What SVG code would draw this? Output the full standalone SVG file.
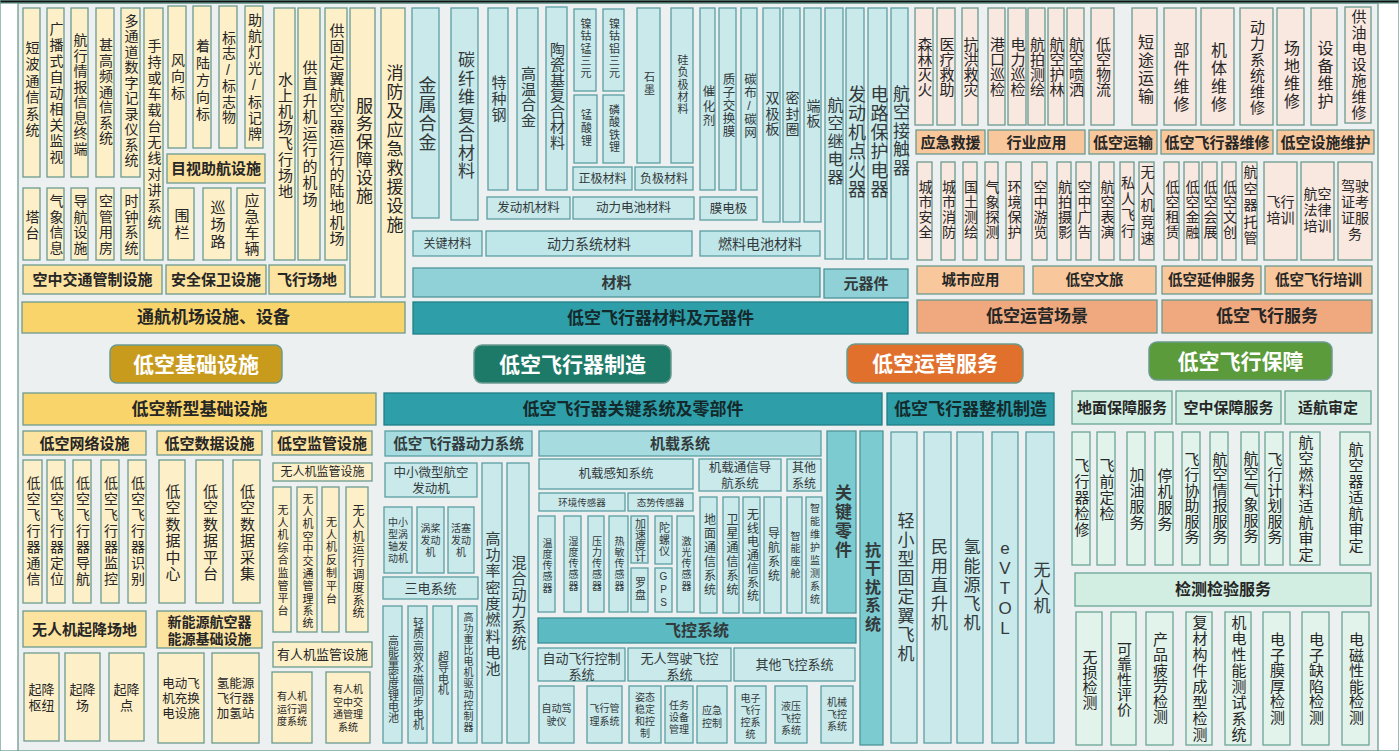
<svg xmlns="http://www.w3.org/2000/svg" width="1399" height="751" viewBox="0 0 1399 751">
<style>
rect{stroke:#6b9a8f;stroke-width:1.3}
.y1{fill:#fdf0c9}.y2{fill:#fce3a0}.y3{fill:#f9d46a}
.t1{fill:#c9e9eb;stroke:#5a9ea3}.t2{fill:#a6dce0;stroke:#5a9ea3}.t3{fill:#8fd1d7;stroke:#4f9499}.t4{fill:#2e9ea8;stroke:#1f7f86}.t5{fill:#5cbac3;stroke:#3f9096}.t6{fill:#7ccbd1;stroke:#4f9499}.t7{fill:#bfe6e9;stroke:#5a9ea3}
.o1{fill:#f9e8df}.o2{fill:#f8c89c}.o3{fill:#f0a97e}
.g1{fill:#e2f3eb;stroke:#6aa596}.g2{fill:#d2eee2;stroke:#6aa596}
.btn{stroke-width:1.5}
text{font-family:"Liberation Sans","Noto Sans CJK SC",sans-serif;fill:#262626}
.tt text{fill:#333a3b}
.v{writing-mode:vertical-rl;text-orientation:upright;text-anchor:middle}
.h{text-anchor:middle;dominant-baseline:central}
.b{font-weight:700}
.w{fill:#fff;font-weight:700}
.f9{font-size:9.5px}.f10{font-size:10px}.f11{font-size:11px}.f12{font-size:12px}.f125{font-size:12.5px}.f13{font-size:13px}.f14{font-size:14px}.f145{font-size:14.5px}.f15{font-size:15px}.f16{font-size:16px}.f17{font-size:17px}.f18{font-size:18px}.f21{font-size:21px}
.s05{letter-spacing:0.5px}.s1{letter-spacing:1px}.s13{letter-spacing:1.3px}.s15{letter-spacing:1.5px}.s2{letter-spacing:2px}.s25{letter-spacing:2.5px}.s3{letter-spacing:3px}
</style>
<rect x="0" y="0" width="1399" height="751" fill="#ffffff" stroke="none"/>
<rect x="18" y="3" width="1360" height="748" fill="#edf0f1" stroke="none"/>
<rect x="0" y="0" width="1399" height="3" fill="#111" stroke="none"/>

<!-- ===== Low-altitude infrastructure (top) ===== -->
<g id="n-dbtx"><rect class="y1" x="23" y="8" width="17" height="169"/><text class="v f14 s25" x="31.5" y="90">短波通信系统</text></g>
<g id="n-gbs"><rect class="y1" x="47" y="8" width="17" height="169"/><text class="v f14 s2" x="55.5" y="94">广播式自动相关监视</text></g>
<g id="n-hxqb"><rect class="y1" x="71" y="8" width="17" height="169"/><text class="v f14 s15" x="79.5" y="95">航行情报信息终端</text></g>
<g id="n-sgp"><rect class="y1" x="96" y="8" width="18" height="169"/><text class="v f14 s15" x="105" y="92">甚高频通信系统</text></g>
<g id="n-dtd"><rect class="y1" x="121" y="8" width="19" height="169"/><text class="v f14 s15" x="130.5" y="91">多通道数字记录仪系统</text></g>
<g id="n-scht"><rect class="y1" x="144" y="8" width="19" height="252"/><text class="v f14 s2" x="153.5" y="135">手持或车载台无线对讲系统</text></g>
<g id="n-tt"><rect class="y1" x="23" y="188" width="17" height="72"/><text class="v f14 s2" x="31.5" y="226">塔台</text></g>
<g id="n-qx"><rect class="y1" x="47" y="188" width="17" height="72"/><text class="v f14 s15" x="55.5" y="225">气象信息</text></g>
<g id="n-dhss"><rect class="y1" x="71" y="188" width="17" height="72"/><text class="v f14 s15" x="79.5" y="225">导航设施</text></g>
<g id="n-kgyf"><rect class="y1" x="96" y="188" width="18" height="72"/><text class="v f14 s15" x="105" y="225">空管用房</text></g>
<g id="n-szxt"><rect class="y1" x="121" y="188" width="19" height="72"/><text class="v f14 s15" x="130.5" y="225">时钟系统</text></g>
<g id="n-fxb"><rect class="y1" x="168" y="6" width="18" height="142"/><text class="v f14 s25" x="177" y="77">风向标</text></g>
<g id="n-zlfx"><rect class="y1" x="193" y="6" width="18" height="142"/><text class="v f14 s3" x="202" y="81">着陆方向标</text></g>
<g id="n-bzw"><rect class="y1" x="219" y="6" width="18" height="142"/><text class="v f14 s15" x="228" y="78">标志/标志物</text></g>
<g id="n-zhdg"><rect class="y1" x="245" y="6" width="18" height="142"/><text class="v f14 s2" x="254" y="78">助航灯光/标记牌</text></g>
<g id="n-mszh"><rect class="y2" x="167" y="154" width="98" height="29"/><text class="h b f15" x="216" y="168.5">目视助航设施</text></g>
<g id="n-wl"><rect class="y1" x="168" y="188" width="26" height="72"/><text class="v f15 s2" x="181" y="225">围栏</text></g>
<g id="n-xcl"><rect class="y1" x="203" y="188" width="28" height="72"/><text class="v f15 s2" x="217" y="225">巡场路</text></g>
<g id="n-yjcl"><rect class="y1" x="237" y="188" width="28" height="72"/><text class="v f15 s1" x="251" y="225">应急车辆</text></g>
<g id="n-ssjc"><rect class="y1" x="274" y="8" width="21" height="252"/><text class="v f15 s1" x="284.5" y="136">水上机场飞行场地</text></g>
<g id="n-gzsj"><rect class="y1" x="298" y="8" width="22" height="252"/><text class="v f15 s15" x="309" y="134">供直升机运行的机场</text></g>
<g id="n-ggdy"><rect class="y1" x="325" y="8" width="22" height="252"/><text class="v f15 s1" x="336" y="135">供固定翼航空器运行的陆地机场</text></g>
<g id="n-fwbz"><rect class="y1" x="350" y="8" width="25" height="289"/><text class="v f17 s1" x="362.5" y="151">服务保障设施</text></g>
<g id="n-xfjy"><rect class="y1" x="381" y="8" width="24" height="289"/><text class="v f17 s2" x="393" y="150">消防及应急救援设施</text></g>
<g id="n-kzjt"><rect class="y2" x="23" y="265" width="139" height="29"/><text class="h b f15" x="92.5" y="279.5">空中交通管制设施</text></g>
<g id="n-aqbw"><rect class="y2" x="166" y="265" width="100" height="29"/><text class="h b f15" x="216" y="279.5">安全保卫设施</text></g>
<g id="n-fxcd"><rect class="y2" x="269" y="265" width="76" height="29"/><text class="h b f15" x="307" y="279.5">飞行场地</text></g>
<g id="n-thjc"><rect class="y3" x="22" y="302" width="383" height="31"/><text class="h b f17" x="213.5" y="317.5">通航机场设施、设备</text></g>
<g id="n-dkjc"><rect class="btn" x="110" y="345" width="172" height="38" rx="7" fill="#c89b1c" stroke="#86661a"/><text class="h w f21" x="196" y="364">低空基础设施</text></g>

<!-- ===== Materials & components (top) ===== -->
<g class="tt">
<g id="n-jshj"><rect class="t1" x="412" y="8" width="27" height="210"/><text class="v f18 s1" x="425.5" y="114">金属合金</text></g>
<g id="n-txw"><rect class="t1" x="451" y="8" width="27" height="212"/><text class="v f17 s15" x="464.5" y="116">碳纤维复合材料</text></g>
<g id="n-tzg"><rect class="t1" x="488" y="8" width="20" height="182"/><text class="v f15 s1" x="498" y="99">特种钢</text></g>
<g id="n-gwhj"><rect class="t1" x="517" y="8" width="21" height="182"/><text class="v f15 s05" x="527.5" y="97">高温合金</text></g>
<g id="n-tcj"><rect class="t1" x="546" y="7" width="21" height="183"/><text class="v f15 s05" x="556.5" y="96">陶瓷基复合材料</text></g>
<g id="n-ngm"><rect class="t1" x="574" y="9" width="22" height="82"/><text class="v f11 s13" x="585" y="49">镍钴锰三元</text></g>
<g id="n-ngl"><rect class="t1" x="603" y="9" width="21" height="82"/><text class="v f11 s13" x="613.5" y="49">镍钴铝三元</text></g>
<g id="n-msl"><rect class="t1" x="574" y="95" width="23" height="68"/><text class="v f11 s2" x="585.5" y="129">锰酸锂</text></g>
<g id="n-lstl"><rect class="t1" x="603" y="95" width="21" height="68"/><text class="v f11 s13" x="613.5" y="129">磷酸铁锂</text></g>
<g id="n-sm"><rect class="t1" x="637" y="8" width="23" height="155"/><text class="v f11 s15" x="648.5" y="84">石墨</text></g>
<g id="n-gfj"><rect class="t1" x="671" y="8" width="22" height="155"/><text class="v f11 s13" x="682" y="85">硅负极材料</text></g>
<g id="n-zjcl"><rect class="t1" x="573" y="167" width="59" height="23"/><text class="h f12" x="602.5" y="178.5">正极材料</text></g>
<g id="n-fjcl"><rect class="t1" x="635" y="167" width="58" height="23"/><text class="h f12" x="664" y="178.5">负极材料</text></g>
<g id="n-fdjcl"><rect class="t1" x="487" y="197" width="83" height="22"/><text class="h f125" x="528.5" y="208">发动机材料</text></g>
<g id="n-dldc"><rect class="t1" x="573" y="197" width="121" height="22"/><text class="h f125" x="633.5" y="208">动力电池材料</text></g>
<g id="n-chj"><rect class="t1" x="700" y="8" width="15" height="182"/><text class="v f125 s2" x="707.5" y="107">催化剂</text></g>
<g id="n-zzjh"><rect class="t1" x="719" y="8" width="17" height="182"/><text class="v f125 s05" x="727.5" y="105">质子交换膜</text></g>
<g id="n-tbtw"><rect class="t1" x="741" y="8" width="16" height="182"/><text class="v f125 s05" x="749" y="106">碳布/碳网</text></g>
<g id="n-mdj"><rect class="t1" x="700" y="197" width="57" height="23"/><text class="h f125" x="728.5" y="208.5">膜电极</text></g>
<g id="n-sjb"><rect class="t1" x="763" y="8" width="17" height="214"/><text class="v f14 s15" x="771.5" y="114">双极板</text></g>
<g id="n-mfq"><rect class="t1" x="783" y="8" width="17" height="214"/><text class="v f14 s15" x="791.5" y="114">密封圈</text></g>
<g id="n-db"><rect class="t1" x="804" y="8" width="17" height="214"/><text class="v f14 s15" x="812.5" y="114">端板</text></g>
<g id="n-gjcl"><rect class="t7" x="413" y="231" width="69" height="25"/><text class="h f12" x="447.5" y="243.5">关键材料</text></g>
<g id="n-dlxt"><rect class="t7" x="486" y="231" width="206" height="25"/><text class="h f14" x="589" y="243.5">动力系统材料</text></g>
<g id="n-rldc"><rect class="t7" x="700" y="231" width="120" height="25"/><text class="h f14" x="760" y="243.5">燃料电池材料</text></g>
<g id="n-hkjd"><rect class="t1" x="825" y="8" width="18" height="251"/><text class="v f16 s2" x="834" y="142">航空继电器</text></g>
<g id="n-fdjdh"><rect class="t1" x="846" y="8" width="18" height="251"/><text class="v f18 s1" x="855" y="142">发动机点火器</text></g>
<g id="n-dlbh"><rect class="t1" x="868" y="8" width="19" height="251"/><text class="v f18 s1" x="877.5" y="142">电路保护电器</text></g>
<g id="n-hkjc"><rect class="t1" x="891" y="8" width="17" height="251"/><text class="v f17 s15" x="899.5" y="131">航空接触器</text></g>
<g id="n-cl"><rect class="t3" x="413" y="268" width="407" height="29"/><text class="h b f15" x="616.5" y="282.5">材料</text></g>
<g id="n-yqj"><rect class="t3" x="824" y="269" width="84" height="29"/><text class="h b f15" x="866" y="283.5">元器件</text></g>
<g id="n-clyqj"><rect class="t4" x="413" y="302" width="495" height="32"/><text class="h b f17" x="660.5" y="318" style="fill:#14292b">低空飞行器材料及元器件</text></g>
</g>
<g id="n-zz"><rect class="btn" x="474" y="345" width="197" height="38" rx="8" fill="#1e7a68" stroke="#0f5145"/><text class="h w f21" x="572.5" y="364">低空飞行器制造</text></g>

<!-- ===== Operations (top right) ===== -->
<g id="n-sl"><rect class="o1" x="915" y="8" width="18" height="117"/><text class="v f15" x="924" y="67">森林灭火</text></g>
<g id="n-yl"><rect class="o1" x="937" y="8" width="18" height="117"/><text class="v f15" x="946" y="67">医疗救助</text></g>
<g id="n-kh"><rect class="o1" x="962" y="8" width="16" height="117"/><text class="v f15" x="970" y="67">抗洪救灾</text></g>
<g id="n-gk"><rect class="o1" x="988" y="8" width="17" height="117"/><text class="v f15" x="996.5" y="67">港口巡检</text></g>
<g id="n-dlxj"><rect class="o1" x="1008" y="8" width="18" height="117"/><text class="v f15" x="1017" y="67">电力巡检</text></g>
<g id="n-hpch"><rect class="o1" x="1028" y="8" width="17" height="117"/><text class="v f15" x="1036.5" y="67">航拍测绘</text></g>
<g id="n-hkhl"><rect class="o1" x="1048" y="8" width="16" height="117"/><text class="v f15" x="1056" y="67">航空护林</text></g>
<g id="n-hkps"><rect class="o1" x="1067" y="8" width="17" height="117"/><text class="v f15" x="1075.5" y="67">航空喷洒</text></g>
<g id="n-dkwl"><rect class="o1" x="1091" y="8" width="23" height="117"/><text class="v f15" x="1102.5" y="67">低空物流</text></g>
<g id="n-dtys"><rect class="o1" x="1132" y="8" width="25" height="117"/><text class="v f16 s2" x="1144.5" y="70">短途运输</text></g>
<g id="n-bjwx"><rect class="o1" x="1164" y="8" width="32" height="117"/><text class="v f16 s2" x="1180" y="78">部件维修</text></g>
<g id="n-jtwx"><rect class="o1" x="1201" y="8" width="33" height="117"/><text class="v f16 s2" x="1217.5" y="78">机体维修</text></g>
<g id="n-dlwx"><rect class="o1" x="1240" y="8" width="33" height="117"/><text class="v f15 s1" x="1256.5" y="68">动力系统维修</text></g>
<g id="n-cdwx"><rect class="o1" x="1277" y="8" width="27" height="117"/><text class="v f16 s15" x="1290.5" y="75">场地维修</text></g>
<g id="n-sbwh"><rect class="o1" x="1311" y="8" width="26" height="117"/><text class="v f16 s15" x="1324" y="75">设备维护</text></g>
<g id="n-gydss"><rect class="o1" x="1345" y="7" width="26" height="116"/><text class="v f15 s1" x="1358" y="65">供油电设施维修</text></g>
<g id="n-yjjy"><rect class="o2" x="916" y="130" width="69" height="24"/><text class="h b f15" x="950.5" y="142">应急救援</text></g>
<g id="n-hyyy"><rect class="o2" x="988" y="130" width="97" height="24"/><text class="h b f15" x="1036.5" y="142">行业应用</text></g>
<g id="n-dkys"><rect class="o2" x="1089" y="130" width="68" height="24"/><text class="h b f15" x="1123" y="142">低空运输</text></g>
<g id="n-fxqwx"><rect class="o2" x="1161" y="130" width="112" height="24"/><text class="h b f15" x="1217" y="142">低空飞行器维修</text></g>
<g id="n-ssww"><rect class="o2" x="1277" y="130" width="97" height="24"/><text class="h b f15" x="1325.5" y="142">低空设施维护</text></g>
<g id="n-csaq"><rect class="o1" x="917" y="162" width="15" height="98"/><text class="v f14 s1" x="924.5" y="210">城市安全</text></g>
<g id="n-csxf"><rect class="o1" x="941" y="162" width="14" height="98"/><text class="v f14 s1" x="948" y="210">城市消防</text></g>
<g id="n-gtch"><rect class="o1" x="963" y="162" width="14" height="98"/><text class="v f14 s1" x="970" y="210">国土测绘</text></g>
<g id="n-qxtc"><rect class="o1" x="985" y="162" width="13" height="98"/><text class="v f14 s1" x="991.5" y="210">气象探测</text></g>
<g id="n-hjbh"><rect class="o1" x="1006" y="162" width="15" height="98"/><text class="v f14 s1" x="1013.5" y="210">环境保护</text></g>
<g id="n-kzyl"><rect class="o1" x="1032" y="162" width="15" height="98"/><text class="v f14 s1" x="1039.5" y="210">空中游览</text></g>
<g id="n-hpsy"><rect class="o1" x="1057" y="162" width="14" height="98"/><text class="v f14 s1" x="1064" y="210">航拍摄影</text></g>
<g id="n-kzgg"><rect class="o1" x="1076" y="162" width="15" height="98"/><text class="v f14 s1" x="1083.5" y="210">空中广告</text></g>
<g id="n-hkby"><rect class="o1" x="1099" y="162" width="15" height="98"/><text class="v f14 s1" x="1106.5" y="210">航空表演</text></g>
<g id="n-srfx"><rect class="o1" x="1120" y="162" width="14" height="98"/><text class="v f14 s2" x="1127" y="208">私人飞行</text></g>
<g id="n-wrjjs"><rect class="o1" x="1139" y="162" width="15" height="98"/><text class="v f14 s25" x="1146.5" y="206">无人机竞速</text></g>
<g id="n-dkzl"><rect class="o1" x="1164" y="162" width="15" height="98"/><text class="v f14 s1" x="1171.5" y="210">低空租赁</text></g>
<g id="n-dkjr"><rect class="o1" x="1184" y="162" width="15" height="98"/><text class="v f14 s1" x="1191.5" y="210">低空金融</text></g>
<g id="n-dkhz"><rect class="o1" x="1202" y="162" width="15" height="98"/><text class="v f14 s1" x="1209.5" y="210">低空会展</text></g>
<g id="n-dkwc"><rect class="o1" x="1222" y="162" width="14" height="98"/><text class="v f14 s1" x="1229" y="210">低空文创</text></g>
<g id="n-hkqtg"><rect class="o1" x="1242" y="162" width="15" height="98"/><text class="v f14 s25" x="1249.5" y="206">航空器托管</text></g>
<g id="n-fxpx"><rect class="o1" x="1264" y="162" width="33" height="98"/><text class="h f14" x="1280.5" y="210"><tspan x="1280.5" y="202">飞行</tspan><tspan x="1280.5" y="218">培训</tspan></text></g>
<g id="n-hkfl"><rect class="o1" x="1301" y="162" width="33" height="98"/><text class="h f14" x="1317.5" y="210"><tspan x="1317.5" y="194">航空</tspan><tspan x="1317.5" y="210">法律</tspan><tspan x="1317.5" y="226">培训</tspan></text></g>
<g id="n-jszk"><rect class="o1" x="1338" y="162" width="34" height="98"/><text class="h f14" x="1355" y="210"><tspan x="1355" y="186">驾驶</tspan><tspan x="1355" y="202">证考</tspan><tspan x="1355" y="218">证服</tspan><tspan x="1355" y="234">务</tspan></text></g>
<g id="n-csyy"><rect class="o2" x="917" y="266" width="107" height="28"/><text class="h b f145" x="970.5" y="280">城市应用</text></g>
<g id="n-dkwl2"><rect class="o2" x="1033" y="266" width="123" height="28"/><text class="h b f145" x="1094.5" y="280">低空文旅</text></g>
<g id="n-ysfw"><rect class="o2" x="1162" y="266" width="99" height="28"/><text class="h b f145" x="1211.5" y="280">低空延伸服务</text></g>
<g id="n-fxpx2"><rect class="o2" x="1265" y="266" width="107" height="28"/><text class="h b f145" x="1318.5" y="280">低空飞行培训</text></g>
<g id="n-yycj"><rect class="o3" x="917" y="300" width="240" height="33"/><text class="h b f17" x="1037" y="316.5">低空运营场景</text></g>
<g id="n-fxfw"><rect class="o3" x="1162" y="300" width="210" height="33"/><text class="h b f17" x="1267" y="316.5">低空飞行服务</text></g>
<g id="n-yyfw"><rect class="btn" x="847" y="344" width="176" height="39" rx="8" fill="#e0702c" stroke="#a14c18"/><text class="h w f21" x="935" y="363.5">低空运营服务</text></g>
<g id="n-fxbz"><rect class="btn" x="1149" y="342" width="183" height="38" rx="8" fill="#5c9b3b" stroke="#3f7326"/><text class="h w f21" x="1240.5" y="361">低空飞行保障</text></g>

<!-- ===== New infrastructure (bottom left) ===== -->
<g id="n-xxjc"><rect class="y3" x="23" y="393" width="353" height="32"/><text class="h b f17" x="199.5" y="409">低空新型基础设施</text></g>
<g id="n-wlss"><rect class="y2" x="23" y="431" width="123" height="24"/><text class="h b f15" x="84.5" y="443">低空网络设施</text></g>
<g id="n-sjss"><rect class="y2" x="157" y="431" width="105" height="24"/><text class="h b f15" x="209.5" y="443">低空数据设施</text></g>
<g id="n-jgss"><rect class="y2" x="272" y="431" width="100" height="24"/><text class="h b f15" x="322" y="443">低空监管设施</text></g>
<g id="n-tx"><rect class="y1" x="23" y="460" width="19" height="143"/><text class="v f14 s2" x="32.5" y="532">低空飞行器通信</text></g>
<g id="n-dw"><rect class="y1" x="47" y="460" width="18" height="143"/><text class="v f14 s2" x="56" y="532">低空飞行器定位</text></g>
<g id="n-dh"><rect class="y1" x="73" y="460" width="18" height="143"/><text class="v f14 s2" x="82" y="532">低空飞行器导航</text></g>
<g id="n-jk"><rect class="y1" x="101" y="460" width="18" height="143"/><text class="v f14 s2" x="110" y="532">低空飞行器监控</text></g>
<g id="n-sb"><rect class="y1" x="128" y="460" width="18" height="143"/><text class="v f14 s2" x="137" y="532">低空飞行器识别</text></g>
<g id="n-sjzx"><rect class="y1" x="159" y="460" width="26" height="143"/><text class="v f15 s15" x="172" y="533">低空数据中心</text></g>
<g id="n-sjpt"><rect class="y1" x="196" y="460" width="27" height="143"/><text class="v f15 s15" x="209.5" y="533">低空数据平台</text></g>
<g id="n-sjcj"><rect class="y1" x="233" y="460" width="27" height="143"/><text class="v f15 s15" x="246.5" y="533">低空数据采集</text></g>
<g id="n-wrjjg"><rect class="y1" x="273" y="463" width="99" height="18"/><text class="h f12" x="322.5" y="472">无人机监管设施</text></g>
<g id="n-zhjg"><rect class="y1" x="273" y="487" width="18" height="145"/><text class="v f11" x="282" y="561" style="letter-spacing:1.6px">无人机综合监管平台</text></g>
<g id="n-kzjtgl"><rect class="y1" x="297" y="487" width="20" height="145"/><text class="v f11" x="307" y="562" style="letter-spacing:1.4px">无人机空中交通管理系统</text></g>
<g id="n-fzpt"><rect class="y1" x="322" y="487" width="17" height="145"/><text class="v f11" x="330.5" y="561" style="letter-spacing:1.8px">无人机反制平台</text></g>
<g id="n-yxdd"><rect class="y1" x="346" y="487" width="22" height="145"/><text class="v f12" x="357" y="562" style="letter-spacing:0.8px">无人机运行调度系统</text></g>
<g id="n-yrjjg"><rect class="y1" x="273" y="642" width="99" height="25"/><text class="h f13" x="322.5" y="654.5">有人机监管设施</text></g>
<g id="n-yryx"><rect class="y1" x="272" y="672" width="40" height="71"/><text class="h f10" x="292" y="709"><tspan x="292" y="696">有人机</tspan><tspan x="292" y="708.5">运行调</tspan><tspan x="292" y="721">度系统</tspan></text></g>
<g id="n-yrkz"><rect class="y1" x="326" y="672" width="44" height="71"/><text class="h f10" x="348" y="708"><tspan x="348" y="689">有人机</tspan><tspan x="348" y="701.5">空中交</tspan><tspan x="348" y="714">通管理</tspan><tspan x="348" y="726.5">系统</tspan></text></g>
<g id="n-qjcd"><rect class="y2" x="23" y="611" width="123" height="36"/><text class="h b f15" x="84.5" y="629">无人机起降场地</text></g>
<g id="n-xny"><rect class="y2" x="157" y="611" width="105" height="37"/><text class="h b f14" x="209.5" y="630"><tspan x="209.5" y="621.5">新能源航空器</tspan><tspan x="209.5" y="638.5">能源基础设施</tspan></text></g>
<g id="n-qjsn"><rect class="y1" x="24" y="653" width="35" height="88"/><text class="h f13" x="41.5" y="697"><tspan x="41.5" y="689">起降</tspan><tspan x="41.5" y="705">枢纽</tspan></text></g>
<g id="n-qjc"><rect class="y1" x="65" y="653" width="35" height="88"/><text class="h f13" x="82.5" y="697"><tspan x="82.5" y="689">起降</tspan><tspan x="82.5" y="705">场</tspan></text></g>
<g id="n-qjd"><rect class="y1" x="109" y="653" width="35" height="88"/><text class="h f13" x="126.5" y="697"><tspan x="126.5" y="689">起降</tspan><tspan x="126.5" y="705">点</tspan></text></g>
<g id="n-cdhd"><rect class="y1" x="158" y="653" width="46" height="90"/><text class="h f125" x="181" y="699"><tspan x="181" y="684">电动飞</tspan><tspan x="181" y="699">机充换</tspan><tspan x="181" y="714">电设施</tspan></text></g>
<g id="n-jqz"><rect class="y1" x="212" y="653" width="47" height="90"/><text class="h f125" x="235.5" y="699"><tspan x="235.5" y="684">氢能源</tspan><tspan x="235.5" y="699">飞行器</tspan><tspan x="235.5" y="714">加氢站</tspan></text></g>

<!-- ===== Key systems & whole aircraft (bottom middle) ===== -->
<g class="tt">
<g id="n-gjxt"><rect class="t4" x="384" y="393" width="498" height="32"/><text class="h b f17" x="633" y="409" style="fill:#14292b">低空飞行器关键系统及零部件</text></g>
<g id="n-zjzz"><rect class="t4" x="887" y="393" width="167" height="32"/><text class="h b f17" x="970.5" y="409" style="fill:#14292b">低空飞行器整机制造</text></g>
<g id="n-dlxt2"><rect class="t2" x="385" y="431" width="147" height="25"/><text class="h b f145" x="458.5" y="443.5">低空飞行器动力系统</text></g>
<g id="n-jzxt"><rect class="t2" x="539" y="431" width="282" height="25"/><text class="h b f15" x="680" y="443.5">机载系统</text></g>
<g id="n-zxwx"><rect class="t1" x="385" y="463" width="92" height="34"/><text class="h f125" x="431" y="480"><tspan x="431" y="472.5">中小微型航空</tspan><tspan x="431" y="488.5">发动机</tspan></text></g>
<g id="n-wz"><rect class="t1" x="384" y="507" width="28" height="66"/><text class="h f10" x="398" y="540"><tspan x="398" y="521.5">中小</tspan><tspan x="398" y="533.5">型涡</tspan><tspan x="398" y="545.5">轴发</tspan><tspan x="398" y="557.5">动机</tspan></text></g>
<g id="n-wj"><rect class="t1" x="417" y="507" width="27" height="66"/><text class="h f10" x="430.5" y="540"><tspan x="430.5" y="528">涡桨</tspan><tspan x="430.5" y="540">发动</tspan><tspan x="430.5" y="552">机</tspan></text></g>
<g id="n-hs"><rect class="t1" x="448" y="507" width="26" height="66"/><text class="h f10" x="461" y="540"><tspan x="461" y="528">活塞</tspan><tspan x="461" y="540">发动</tspan><tspan x="461" y="552">机</tspan></text></g>
<g id="n-sdxt"><rect class="t1" x="383" y="577" width="95" height="22"/><text class="h f13" x="430.5" y="588">三电系统</text></g>
<g id="n-gnl"><rect class="t1" x="383" y="606" width="19" height="137"/><text class="v f11" x="392.5" y="679">高能量密度锂电池</text></g>
<g id="n-qzgx"><rect class="t1" x="408" y="606" width="19" height="137"/><text class="v f11" x="417.5" y="674" style="letter-spacing:0.3px">轻质高效永磁同步电机</text></g>
<g id="n-cddj"><rect class="t1" x="433" y="606" width="19" height="137"/><text class="v f11" x="442.5" y="673">超导电机</text></g>
<g id="n-ggzb"><rect class="t1" x="458" y="606" width="19" height="137"/><text class="v f10 s1" x="467.5" y="673">高功重比电机驱动控制器</text></g>
<g id="n-rldc2"><rect class="t1" x="482" y="463" width="20" height="280"/><text class="v f15 s13" x="492" y="604">高功率密度燃料电池</text></g>
<g id="n-hhdl"><rect class="t1" x="507" y="463" width="22" height="280"/><text class="v f15 s1" x="518" y="603">混合动力系统</text></g>
<g id="n-gzxt"><rect class="t1" x="539" y="459" width="154" height="30"/><text class="h f125" x="616" y="474">机载感知系统</text></g>
<g id="n-txdh"><rect class="t1" x="699" y="459" width="82" height="32"/><text class="h f125" x="740" y="476"><tspan x="740" y="468">机载通信导</tspan><tspan x="740" y="484">航系统</tspan></text></g>
<g id="n-qtxt"><rect class="t1" x="787" y="459" width="34" height="32"/><text class="h f12" x="804" y="476"><tspan x="804" y="468">其他</tspan><tspan x="804" y="483.5">系统</tspan></text></g>
<g id="n-hjcg"><rect class="t1" x="539" y="493" width="86" height="18"/><text class="h f9" x="582" y="502">环境传感器</text></g>
<g id="n-tscg"><rect class="t1" x="628" y="493" width="65" height="18"/><text class="h f9" x="660.5" y="502">态势传感器</text></g>
<g id="n-wdcg"><rect class="t1" x="538" y="516" width="17" height="96"/><text class="v f10" x="546.5" y="566" style="letter-spacing:1.2px">温度传感器</text></g>
<g id="n-sdcg"><rect class="t1" x="564" y="516" width="17" height="96"/><text class="v f10" x="572.5" y="564" style="letter-spacing:1.2px">湿度传感器</text></g>
<g id="n-ylcg"><rect class="t1" x="588" y="516" width="16" height="96"/><text class="v f10" x="596" y="564" style="letter-spacing:1.2px">压力传感器</text></g>
<g id="n-rmcg"><rect class="t1" x="609" y="516" width="19" height="96"/><text class="v f10" x="618.5" y="564" style="letter-spacing:1.2px">热敏传感器</text></g>
<g id="n-jsdj"><rect class="t1" x="631" y="516" width="17" height="47"/><text class="v f11" x="639.5" y="540">加速度计</text></g>
<g id="n-lp"><rect class="t1" x="631" y="568" width="17" height="44"/><text class="v f11 s1" x="639.5" y="589">罗盘</text></g>
<g id="n-tly"><rect class="t1" x="655" y="516" width="17" height="48"/><text class="v f11 s05" x="663.5" y="540">陀螺仪</text></g>
<g id="n-gps"><rect class="t1" x="655" y="568" width="17" height="44"/><text class="v f10 s2" x="663.5" y="590">GPS</text></g>
<g id="n-jgcg"><rect class="t1" x="677" y="516" width="17" height="96"/><text class="v f10" x="685.5" y="564" style="letter-spacing:1.2px">激光传感器</text></g>
<g id="n-dmtx"><rect class="t1" x="700" y="497" width="17" height="116"/><text class="v f12 s2" x="708.5" y="555">地面通信系统</text></g>
<g id="n-wxtx"><rect class="t1" x="723" y="497" width="16" height="116"/><text class="v f12 s2" x="731" y="555">卫星通信系统</text></g>
<g id="n-wxdtx"><rect class="t1" x="743" y="497" width="17" height="116"/><text class="v f12 s15" x="751.5" y="556">无线电通信系统</text></g>
<g id="n-dhxt"><rect class="t1" x="764" y="497" width="17" height="116"/><text class="v f12 s2" x="772.5" y="555">导航系统</text></g>
<g id="n-znzc"><rect class="t1" x="787" y="497" width="15" height="116"/><text class="v f10 s25" x="794.5" y="556">智能座舱</text></g>
<g id="n-znwh"><rect class="t1" x="806" y="497" width="16" height="116"/><text class="v f10 s3" x="814" y="555">智能维护监测系统</text></g>
<g id="n-gjlj"><rect class="t6" x="827" y="431" width="29" height="182"/><text class="v b f17 s2" x="841.5" y="522">关键零件</text></g>
<g id="n-kgr"><rect class="t6" x="860" y="431" width="23" height="314"/><text class="v b f16 s25" x="871.5" y="588">抗干扰系统</text></g>
<g id="n-fkxt"><rect class="t5" x="538" y="618" width="318" height="25"/><text class="h b f16" x="697" y="630.5">飞控系统</text></g>
<g id="n-zdfk"><rect class="t1" x="538" y="648" width="87" height="33"/><text class="h f13" x="581.5" y="666"><tspan x="581.5" y="658">自动飞行控制</tspan><tspan x="581.5" y="673.5">系统</tspan></text></g>
<g id="n-wrjs"><rect class="t1" x="628" y="648" width="103" height="33"/><text class="h f13" x="679.5" y="666"><tspan x="679.5" y="658">无人驾驶飞控</tspan><tspan x="679.5" y="673.5">系统</tspan></text></g>
<g id="n-qtfk"><rect class="t1" x="734" y="648" width="121" height="33"/><text class="h f13" x="794.5" y="664.5">其他飞控系统</text></g>
<g id="n-zdjs"><rect class="t1" x="539" y="686" width="35" height="57"/><text class="h f10" x="556.5" y="714"><tspan x="556.5" y="708">自动驾</tspan><tspan x="556.5" y="720.5">驶仪</tspan></text></g>
<g id="n-fxgl"><rect class="t1" x="587" y="686" width="35" height="57"/><text class="h f10" x="604.5" y="714"><tspan x="604.5" y="708">飞行管</tspan><tspan x="604.5" y="720.5">理系统</tspan></text></g>
<g id="n-ztwd"><rect class="t1" x="629" y="686" width="32" height="57"/><text class="h f10" x="645" y="715"><tspan x="645" y="696.5">姿态</tspan><tspan x="645" y="708.5">稳定</tspan><tspan x="645" y="720.5">和控</tspan><tspan x="645" y="732.5">制</tspan></text></g>
<g id="n-rwsb"><rect class="t1" x="665" y="686" width="28" height="57"/><text class="h f10" x="679" y="716"><tspan x="679" y="704.5">任务</tspan><tspan x="679" y="716.5">设备</tspan><tspan x="679" y="728.5">管理</tspan></text></g>
<g id="n-yjkz"><rect class="t1" x="697" y="686" width="30" height="57"/><text class="h f10" x="712" y="716"><tspan x="712" y="710">应急</tspan><tspan x="712" y="722.5">控制</tspan></text></g>
<g id="n-dzfx"><rect class="t1" x="735" y="686" width="31" height="57"/><text class="h f10" x="750.5" y="717"><tspan x="750.5" y="697.5">电子</tspan><tspan x="750.5" y="709.5">飞行</tspan><tspan x="750.5" y="721.5">控系</tspan><tspan x="750.5" y="733.5">统</tspan></text></g>
<g id="n-yyfk"><rect class="t1" x="775" y="686" width="32" height="57"/><text class="h f10" x="791" y="718"><tspan x="791" y="706">液压</tspan><tspan x="791" y="718">飞控</tspan><tspan x="791" y="730">系统</tspan></text></g>
<g id="n-jxfk"><rect class="t1" x="821" y="686" width="32" height="57"/><text class="h f10" x="837" y="714"><tspan x="837" y="702">机械</tspan><tspan x="837" y="714">飞控</tspan><tspan x="837" y="726">系统</tspan></text></g>
<g id="n-qxgd"><rect class="t1" x="891" y="432" width="26" height="311"/><text class="v f17 s2" x="904" y="588">轻小型固定翼飞机</text></g>
<g id="n-myzs"><rect class="t1" x="924" y="432" width="27" height="311"/><text class="v f17 s2" x="937.5" y="586">民用直升机</text></g>
<g id="n-qny"><rect class="t1" x="957" y="432" width="26" height="311"/><text class="v f17 s2" x="970" y="586">氢能源飞机</text></g>
<g id="n-evtol"><rect class="t1" x="992" y="432" width="26" height="311"/><text class="v f17 s1" x="1005" y="589">eVTOL</text></g>
<g id="n-wrj"><rect class="t1" x="1026" y="432" width="28" height="311"/><text class="v f17 s1" x="1040" y="588">无人机</text></g>
</g>

<!-- ===== Flight support (bottom right) ===== -->
<g id="n-dmbz"><rect class="g2" x="1072" y="391" width="100" height="33"/><text class="h b f15" x="1122" y="407.5">地面保障服务</text></g>
<g id="n-kzbz"><rect class="g2" x="1176" y="391" width="105" height="33"/><text class="h b f15" x="1228.5" y="407.5">空中保障服务</text></g>
<g id="n-shsd"><rect class="g2" x="1285" y="391" width="86" height="33"/><text class="h b f15" x="1328" y="407.5">适航审定</text></g>
<g id="n-fxqjx"><rect class="g1" x="1072" y="432" width="18" height="133"/><text class="v f15 s1" x="1081" y="498">飞行器检修</text></g>
<g id="n-fqdj"><rect class="g1" x="1097" y="432" width="18" height="133"/><text class="v f15 s1" x="1106" y="490">飞前定检</text></g>
<g id="n-jyfw"><rect class="g1" x="1127" y="432" width="18" height="133"/><text class="v f15 s1" x="1136" y="499">加油服务</text></g>
<g id="n-tjfw"><rect class="g1" x="1155" y="432" width="18" height="133"/><text class="v f15 s1" x="1164" y="500">停机服务</text></g>
<g id="n-fxxz"><rect class="g1" x="1182" y="432" width="18" height="133"/><text class="v f15 s05" x="1191" y="498">飞行协助服务</text></g>
<g id="n-hkqb"><rect class="g1" x="1210" y="432" width="18" height="133"/><text class="v f15 s05" x="1219" y="498">航空情报服务</text></g>
<g id="n-hkqx"><rect class="g1" x="1241" y="432" width="18" height="133"/><text class="v f15 s05" x="1250" y="497">航空气象服务</text></g>
<g id="n-fxjh"><rect class="g1" x="1265" y="432" width="18" height="133"/><text class="v f15 s05" x="1274" y="498">飞行计划服务</text></g>
<g id="n-hkrl"><rect class="g1" x="1290" y="432" width="30" height="133"/><text class="v f15 s1" x="1305" y="498.5">航空燃料适航审定</text></g>
<g id="n-hkqsh"><rect class="g1" x="1340" y="432" width="30" height="133"/><text class="v f15 s1" x="1355" y="497.5">航空器适航审定</text></g>
<g id="n-jcjy"><rect class="g2" x="1075" y="573" width="296" height="33"/><text class="h b f16" x="1223" y="589.5">检测检验服务</text></g>
<g id="n-wsjc"><rect class="g1" x="1076" y="612" width="26" height="133"/><text class="v f15" x="1089" y="680">无损检测</text></g>
<g id="n-kkx"><rect class="g1" x="1111" y="612" width="25" height="133"/><text class="v f15" x="1123.5" y="679.5">可靠性评价</text></g>
<g id="n-cppl"><rect class="g1" x="1146" y="612" width="27" height="133"/><text class="v f15 s05" x="1159.5" y="678">产品疲劳检测</text></g>
<g id="n-fcgj"><rect class="g1" x="1186" y="612" width="26" height="133"/><text class="v f15 s1" x="1199" y="678.5">复材构件成型检测</text></g>
<g id="n-jdxn"><rect class="g1" x="1225" y="612" width="26" height="133"/><text class="v f15 s1" x="1238" y="678.5">机电性能测试系统</text></g>
<g id="n-dzmh"><rect class="g1" x="1263" y="612" width="27" height="133"/><text class="v f15 s05" x="1276.5" y="678.5">电子膜厚检测</text></g>
<g id="n-dzqx"><rect class="g1" x="1302" y="612" width="27" height="133"/><text class="v f15 s05" x="1315.5" y="678.5">电子缺陷检测</text></g>
<g id="n-dcxn"><rect class="g1" x="1342" y="612" width="27" height="133"/><text class="v f15 s05" x="1355.5" y="678.5">电磁性能检测</text></g>
<g id="connectors"></g>
</svg>
